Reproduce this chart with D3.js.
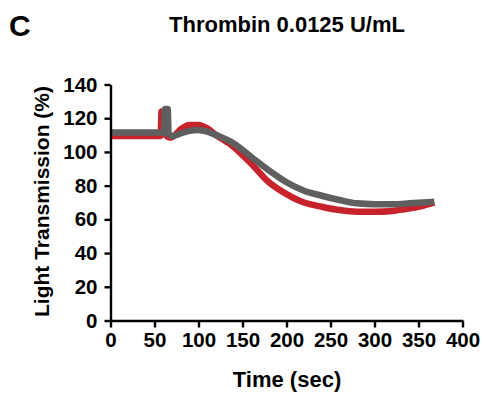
<!DOCTYPE html>
<html>
<head>
<meta charset="utf-8">
<script src="https://cdn.jsdelivr.net/npm/d3@7"></script>
<style>
  body { margin: 0; background: #fff; }
  svg { display: block; font-family: "Liberation Sans", Arial, sans-serif; }
</style>
</head>
<body>
<div id="chart"></div>
<script>
// data (time in sec, light transmission in %)
var redTime = [0, 20, 40, 57, 58, 59, 62, 63, 65, 68, 72, 80, 90, 100, 110, 120, 140, 160, 180, 200, 220, 240, 260, 280, 300, 320, 340, 355, 368];
var redVal  = [109.5, 109.5, 109.5, 109.5, 124, 124, 124, 110, 109, 108.5, 109.5, 113.5, 116, 116, 114, 110, 103, 93, 82, 75, 70, 67.5, 65.5, 64.5, 64.5, 65, 66.5, 68, 70];

var grayTime = [0, 20, 40, 60, 61, 62, 65, 66, 70, 80, 90, 100, 110, 120, 140, 160, 180, 200, 220, 240, 260, 280, 300, 320, 340, 355, 368];
var grayVal  = [111.5, 111.5, 111.5, 111.5, 111, 125.5, 125.5, 111, 109.5, 111, 112.5, 113, 112, 110, 105, 97, 89, 82, 77, 74, 71.5, 69.5, 69, 69, 69.5, 70, 70.5];

var xTicks = [0, 50, 100, 150, 200, 250, 300, 350, 400];
var yTicks = [0, 20, 40, 60, 80, 100, 120, 140];

var width = 483, height = 396;
var plotLeft = 110.5, plotRight = 462.5, plotTop = 84.5, plotBottom = 320.5;

var svg = d3.select("#chart").append("svg")
  .attr("width", width)
  .attr("height", height);

var x = d3.scaleLinear().domain([0, 400]).range([plotLeft, plotRight]);
var y = d3.scaleLinear().domain([0, 140]).range([plotBottom, plotTop]);

function toPoints(t, v) {
  return t.map(function(d, i) { return [d, v[i]]; });
}

var line = d3.line()
  .x(function(d) { return x(d[0]); })
  .y(function(d) { return y(d[1]); })
  .curve(d3.curveMonotoneX);

// red first, gray drawn over it
svg.append("path")
  .datum(toPoints(redTime, redVal))
  .attr("d", line)
  .attr("fill", "none")
  .attr("stroke", "#c8232c")
  .attr("stroke-width", 6.5)
  .attr("stroke-linejoin", "round");

svg.append("path")
  .datum(toPoints(grayTime, grayVal))
  .attr("d", line)
  .attr("fill", "none")
  .attr("stroke", "#5f5f5f")
  .attr("stroke-width", 6.5)
  .attr("stroke-linejoin", "round");

// axes
var xAxis = svg.append("g")
  .attr("transform", "translate(0," + plotBottom + ")")
  .call(d3.axisBottom(x).tickValues(xTicks).tickSize(7).tickPadding(5).tickSizeOuter(0));

var yAxis = svg.append("g")
  .attr("transform", "translate(" + plotLeft + ",0)")
  .call(d3.axisLeft(y).tickValues(yTicks).tickSize(6).tickPadding(7).tickSizeOuter(0));

[xAxis, yAxis].forEach(function(g) {
  g.select(".domain").attr("stroke", "#000").attr("stroke-width", 2.4);
  g.selectAll(".tick line").attr("stroke", "#000").attr("stroke-width", 2.4);
  g.selectAll(".tick text")
    .attr("fill", "#000")
    .style("font-size", "20.5px")
    .style("font-weight", "bold");
});

// titles
svg.append("text")
  .attr("x", 287)
  .attr("y", 32)
  .attr("text-anchor", "middle")
  .style("font-size", "22px")
  .style("font-weight", "bold")
  .text("Thrombin 0.0125 U/mL");

svg.append("text")
  .attr("x", 9)
  .attr("y", 36)
  .style("font-size", "30px")
  .style("font-weight", "bold")
  .text("C");

svg.append("text")
  .attr("x", 287)
  .attr("y", 387)
  .attr("text-anchor", "middle")
  .style("font-size", "22px")
  .style("font-weight", "bold")
  .text("Time (sec)");

svg.append("text")
  .attr("transform", "translate(49," + ((plotTop + plotBottom) / 2 - 1) + ") rotate(-90)")
  .attr("text-anchor", "middle")
  .style("font-size", "21px")
  .style("font-weight", "bold")
  .text("Light Transmission (%)");
</script>
</body>
</html>
